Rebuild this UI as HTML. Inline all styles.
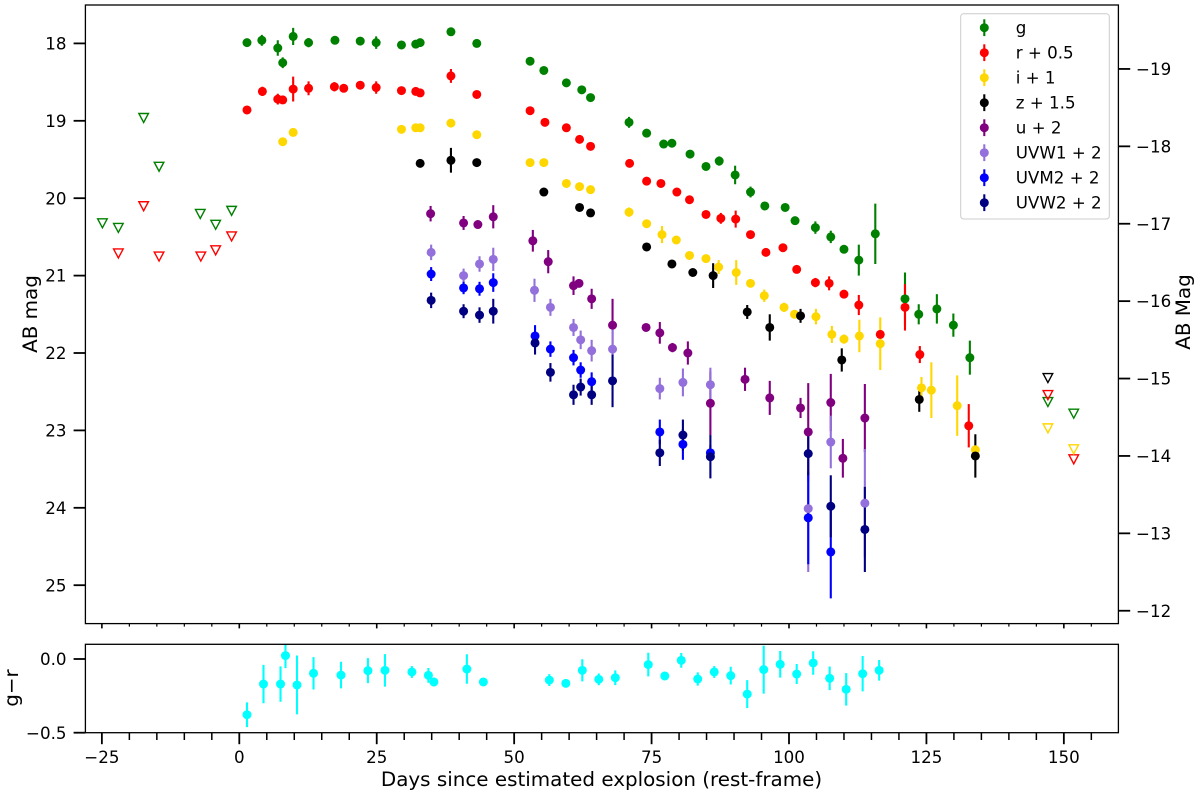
<!DOCTYPE html>
<html lang="en">
<head>
<meta charset="utf-8">
<title>Supernova light curve</title>
<style>
html,body{margin:0;padding:0;background:#fff;}
svg{display:block;}
text{font-family:"DejaVu Sans","Liberation Sans",sans-serif;fill:#000;}
</style>
</head>
<body>
<svg id="chart" xmlns="http://www.w3.org/2000/svg" width="1200" height="796" viewBox="0 0 1200 796">
  <defs>
    <clipPath id="clip-main"><rect x="85.4" y="5" width="1033" height="618.6"></rect></clipPath>
    <clipPath id="clip-color"><rect x="85.4" y="644.3" width="1033" height="88.4"></rect></clipPath>
  </defs>
  <g id="ticks"></g>
  <g id="main-bars" clip-path="url(#clip-main)"></g>
  <g id="main-marks" clip-path="url(#clip-main)"></g>
  <g id="color-bars" clip-path="url(#clip-color)"></g>
  <g id="color-marks" clip-path="url(#clip-color)"></g>
  <rect x="85.4" y="5" width="1033" height="618.6" fill="none" stroke="#000" stroke-width="1.3"></rect>
  <rect x="85.4" y="644.3" width="1033" height="88.4" fill="none" stroke="#000" stroke-width="1.3"></rect>
  <text transform="translate(37,314) rotate(-90)" text-anchor="middle" font-size="19.9">AB mag</text>
  <text transform="translate(1190,312) rotate(-90)" text-anchor="middle" font-size="19.9">AB Mag</text>
  <text transform="translate(18,688) rotate(-90)" text-anchor="middle" font-size="19.9">g−r</text>
  <text x="601.5" y="786" text-anchor="middle" font-size="19.9">Days since estimated explosion (rest-frame)</text>
  <g id="legend">
    <rect x="960.7" y="13.7" width="148.6" height="205.3" rx="3" fill="#fff" fill-opacity="0.8" stroke="#ccc" stroke-width="1"></rect>
  </g>
</svg>
<script>
// Days since explosion, magnitudes and errors per band
const gDays = [1.4,4.1,7.0,7.9,9.8,12.6,17.4,22.0,24.9,29.5,32.1,32.9,38.5,43.2,52.9,55.4,59.5,62.3,63.9,70.9,74.1,77.2,78.7,82.0,84.9,87.3,90.2,93.0,95.6,99.3,101.1,104.8,107.6,110.0,112.7,115.7,121.1,123.6,126.9,129.9,132.9];
const gMags = [17.99,17.96,18.06,18.25,17.91,17.99,17.96,17.97,17.99,18.02,18.01,17.99,17.85,18.0,18.23,18.35,18.51,18.60,18.70,19.02,19.16,19.30,19.29,19.43,19.59,19.52,19.70,19.92,20.10,20.12,20.29,20.38,20.50,20.66,20.80,20.46,21.30,21.50,21.43,21.64,22.06];
const gErrs = [.03,.07,.10,.07,.11,.06,.03,.03,.08,.03,.03,.03,.03,.03,.03,.03,.03,.03,.03,.07,.03,.03,.03,.03,.03,.06,.12,.07,.03,.03,.03,.08,.08,.03,.20,.39,.34,.13,.19,.15,.22];

const rDays = [1.4,4.2,7.0,7.9,9.8,12.6,17.3,19.0,22.0,24.9,29.5,32.1,32.9,38.5,43.2,52.9,55.6,59.5,61.9,63.9,71.0,74.1,76.7,79.6,81.9,84.9,87.6,90.3,93.0,95.8,98.9,101.4,104.8,107.3,110.0,112.7,116.6,121.1,123.8,132.7];
const rMags = [18.86,18.62,18.72,18.73,18.59,18.58,18.56,18.58,18.54,18.57,18.61,18.62,18.64,18.42,18.66,18.87,19.02,19.09,19.24,19.33,19.55,19.78,19.81,19.92,20.02,20.21,20.26,20.27,20.47,20.70,20.64,20.92,21.09,21.10,21.24,21.38,21.76,21.41,22.02,22.94];
const rErrs = [.03,.06,.07,.03,.16,.09,.06,.03,.03,.08,.03,.03,.03,.09,.03,.03,.03,.03,.03,.03,.03,.03,.03,.03,.03,.03,.07,.11,.03,.03,.03,.03,.06,.09,.03,.13,.05,.30,.11,.28];

const iDays = [7.9,9.8,29.5,32.1,32.9,38.5,43.2,52.9,55.4,59.5,61.9,63.9,70.9,74.1,76.9,79.5,81.9,84.9,87.2,90.4,93.0,95.5,99.1,101.0,104.9,107.8,110.0,112.8,116.6,124.1,125.9,130.6,133.9];
const iMags = [19.27,19.15,19.11,19.09,19.09,19.03,19.18,19.54,19.54,19.81,19.85,19.89,20.18,20.33,20.47,20.54,20.74,20.78,20.89,20.96,21.10,21.26,21.41,21.50,21.53,21.76,21.82,21.78,21.88,22.45,22.48,22.68,23.25];
const iErrs = [.03,.03,.03,.03,.03,.03,.03,.03,.03,.03,.03,.03,.06,.03,.11,.03,.03,.03,.09,.16,.03,.08,.06,.03,.10,.11,.06,.21,.34,.14,.36,.39,.05];

const zDays = [32.9,38.5,43.2,55.4,61.9,63.9,74.1,78.7,82.5,86.2,92.4,96.5,102.1,109.6,123.7,133.9];
const zMags = [19.55,19.51,19.54,19.92,20.12,20.19,20.63,20.85,20.96,21.00,21.47,21.67,21.52,22.09,22.60,23.33];
const zErrs = [.03,.16,.03,.03,.03,.03,.03,.03,.03,.16,.09,.17,.09,.15,.16,.28];

const uDays = [34.8,40.8,43.4,46.2,53.4,56.2,60.8,61.8,64.1,67.9,74.0,76.5,78.8,81.6,85.7,92.0,96.5,102.1,103.5,107.6,109.8,113.8];
const uMags = [20.20,20.32,20.34,20.24,20.55,20.82,21.13,21.10,21.30,21.64,21.67,21.74,21.93,22.00,22.65,22.34,22.58,22.71,23.02,22.64,23.36,22.84];
const uErrs = [.10,.09,.03,.15,.14,.15,.12,.03,.13,.34,.03,.14,.06,.15,.41,.15,.22,.13,.63,.37,.25,.44];

const uvw1Days = [34.9,40.8,43.7,46.2,53.7,56.6,60.8,62.1,64.1,67.9,76.5,80.7,85.7,103.5,107.6,113.8];
const uvw1Mags = [20.70,21.00,20.85,20.79,21.19,21.41,21.67,21.83,21.97,21.95,22.46,22.38,22.41,24.01,23.15,23.94];
const uvw1Errs = [.10,.09,.10,.15,.15,.11,.11,.12,.14,.30,.14,.18,.22,.82,.34,.70];

const uvm2Days = [34.9,40.8,43.7,46.2,53.8,56.6,60.8,62.1,64.1,76.5,80.7,85.7,103.5,107.6];
const uvm2Mags = [20.98,21.16,21.17,21.09,21.78,21.95,22.06,22.22,22.37,23.02,23.18,23.29,24.13,24.57];
const uvm2Errs = [.09,.08,.09,.12,.14,.10,.10,.10,.12,.16,.20,.10,.60,.60];

const uvw2Days = [34.9,40.8,43.7,46.2,53.8,56.6,60.8,62.1,64.1,67.9,76.5,80.7,85.7,103.5,107.6,113.8];
const uvw2Mags = [21.32,21.46,21.51,21.46,21.87,22.25,22.54,22.44,22.54,22.36,23.29,23.06,23.34,23.30,23.98,24.28];
const uvw2Errs = [.10,.09,.10,.16,.15,.12,.13,.11,.13,.34,.17,.20,.28,.28,.40,.55];

// Upper limits
const gLimitDays = [-24.9,-22.0,-17.4,-14.6,-7.1,-4.3,-1.4,147.1,151.8];
const gLimitMags = [20.32,20.38,18.96,19.59,20.20,20.34,20.16,22.63,22.78];
const rLimitDays = [-22.0,-17.4,-14.6,-7.0,-4.3,-1.4,147.1,151.8];
const rLimitMags = [20.71,20.10,20.75,20.75,20.67,20.49,22.54,23.37];
const iLimitDays = [147.1,151.8];
const iLimitMags = [22.97,23.24];
const zLimitDays = [147.1];
const zLimitMags = [22.32];

// g-r colour panel
const colorDays = [1.4,4.4,7.5,8.4,10.5,13.5,18.5,23.4,26.5,31.4,34.4,35.4,41.4,44.4,56.4,59.4,62.4,65.4,68.4,74.4,77.4,80.4,83.4,86.4,89.4,92.4,95.4,98.4,101.4,104.4,107.4,110.4,113.4,116.4];
const colorVals = [-.378,-.17,-.17,.023,-.176,-.097,-.109,-.079,-.077,-.088,-.111,-.156,-.068,-.156,-.143,-.165,-.077,-.138,-.127,-.038,-.115,-.009,-.136,-.088,-.113,-.238,-.072,-.036,-.102,-.027,-.131,-.206,-.10,-.077];
const colorErrs = [.084,.13,.12,.085,.2,.11,.09,.085,.11,.04,.05,.03,.10,.02,.04,.02,.075,.04,.05,.08,.02,.05,.045,.04,.06,.095,.163,.09,.068,.08,.08,.11,.12,.07];

// Tick values and labels
const xMajorTicks = [-25,0,25,50,75,100,125,150];
const xMinorTicks = [-20,-15,-10,-5,5,10,15,20,30,35,40,45,55,60,65,70,80,85,90,95,105,110,115,120,130,135,140,145,155];
const magTicks = [18,19,20,21,22,23,24,25];
const absTicks = [-19,-18,-17,-16,-15,-14,-13,-12];
const colorTicks = [0,-0.5];
const colorTickLabels = ['0.0','−0.5'];
const distanceModulus = 37.33;

const bandNames = ['g','r + 0.5','i + 1','z + 1.5','u + 2','UVW1 + 2','UVM2 + 2','UVW2 + 2'];
const bandColors = ['#008000','#ff0000','#ffd700','#000000','#800080','#9370db','#0000ff','#000080'];
const bandDays = [gDays,rDays,iDays,zDays,uDays,uvw1Days,uvm2Days,uvw2Days];
const bandMags = [gMags,rMags,iMags,zMags,uMags,uvw1Mags,uvm2Mags,uvw2Mags];
const bandErrs = [gErrs,rErrs,iErrs,zErrs,uErrs,uvw1Errs,uvm2Errs,uvw2Errs];
const limitDays = [gLimitDays,rLimitDays,iLimitDays,zLimitDays];
const limitMags = [gLimitMags,rLimitMags,iLimitMags,zLimitMags];

// Axis functions
function xScale(d){ return 239.3 + 5.497 * d; }
function magScale(m){ return 43.4 + 77.4 * (m - 18); }
function colorScale(v){ return 659 - 147.4 * v; }

const NS = 'http://www.w3.org/2000/svg';
function make(tag, attrs, parent){
  const n = document.createElementNS(NS, tag);
  for (const k in attrs) n.setAttribute(k, attrs[k]);
  parent.appendChild(n);
  return n;
}
function fmt(v){ return String(v).replace('-', '−'); }

const ticksG = document.getElementById('ticks');
const mainBars = document.getElementById('main-bars');
const mainMarks = document.getElementById('main-marks');
const colorBarsG = document.getElementById('color-bars');
const colorMarksG = document.getElementById('color-marks');
const legendG = document.getElementById('legend');

function tick(x1, y1, x2, y2, name, w){
  const t = make('line', {x1:x1, y1:y1, x2:x2, y2:y2, stroke:'#000', 'stroke-width':w}, ticksG);
  
  
}
function tickText(x, y, str, anchor, name){
  const t = make('text', {x:x, y:y, 'text-anchor':anchor, 'font-size':16.7}, ticksG);
  t.textContent = str;
  
  
}

xMajorTicks.forEach(function(d){
  const x = xScale(d);
  tick(x, 623.6, x, 628.4, 'main-x-major-tick', 1.6);
  tick(x, 732.7, x, 744.2, 'colour-x-major-tick', 1.8);
  tickText(x, 763, fmt(d), 'middle', 'x-tick-label');
});
xMinorTicks.forEach(function(d){
  const x = xScale(d);
  tick(x, 623.6, x, 626.6, 'main-x-minor-tick', 1.2);
  tick(x, 732.7, x, 740, 'colour-x-minor-tick', 1.5);
});
magTicks.forEach(function(m){
  const y = magScale(m);
  tick(73.6, y, 85.4, y, 'mag-y-tick', 1.8);
  tickText(66.5, y + 6.1, String(m), 'end', 'mag-y-tick-label');
});
absTicks.forEach(function(a){
  const y = magScale(a + distanceModulus);
  tick(1118.4, y, 1130.2, y, 'abs-mag-y-tick', 1.8);
  tickText(1136, y + 6.1, fmt(a), 'start', 'abs-mag-y-tick-label');
});
colorTicks.forEach(function(v, i){
  const y = colorScale(v);
  tick(73.6, y, 85.4, y, 'colour-y-tick', 1.8);
  tickText(66.5, y + 6.1, colorTickLabels[i], 'end', 'colour-y-tick-label');
});

// All error bars lie below all markers, series by series
bandNames.forEach(function(name, b){
  const slug = name.split(' ')[0].toLowerCase();
  bandDays[b].forEach(function(d, i){
    const x = xScale(d);
    const bar = make('line', {x1:x, x2:x, y1:magScale(bandMags[b][i] - bandErrs[b][i]), y2:magScale(bandMags[b][i] + bandErrs[b][i]), stroke:bandColors[b], 'stroke-width':2.1}, mainBars);
    
    
  });
});
limitDays.forEach(function(days, b){
  const slug = bandNames[b].split(' ')[0].toLowerCase();
  days.forEach(function(d, i){
    const x = xScale(d), y = magScale(limitMags[b][i]);
    const tri = make('path', {d:'M' + (x - 4.8) + ' ' + (y - 4.2) + 'L' + (x + 4.8) + ' ' + (y - 4.2) + 'L' + x + ' ' + (y + 4.8) + 'Z', fill:'none', stroke:bandColors[b], 'stroke-width':1.4}, mainMarks);
    
    
  });
});
bandNames.forEach(function(name, b){
  const slug = name.split(' ')[0].toLowerCase();
  bandDays[b].forEach(function(d, i){
    const dot = make('circle', {cx:xScale(d), cy:magScale(bandMags[b][i]), r:4.5, fill:bandColors[b]}, mainMarks);
    
    
  });
});

colorDays.forEach(function(d, i){
  const x = xScale(d);
  const bar = make('line', {x1:x, x2:x, y1:colorScale(colorVals[i] + colorErrs[i]), y2:colorScale(colorVals[i] - colorErrs[i]), stroke:'#00ffff', 'stroke-width':2.1}, colorBarsG);
  
  
  const dot = make('circle', {cx:x, cy:colorScale(colorVals[i]), r:4.5, fill:'#00ffff'}, colorMarksG);
  
  
});

// Legend
bandNames.forEach(function(name, b){
  const y = 27.7 + 25 * b;
  const g = make('g', {}, legendG);
  
  
  const bar = make('line', {x1:984.3, x2:984.3, y1:y - 8.4, y2:y + 8.4, stroke:bandColors[b], 'stroke-width':2.1}, g);
  
  
  const dot = make('circle', {cx:984.3, cy:y, r:4.5, fill:bandColors[b]}, g);
  
  
  const label = make('text', {x:1015.7, y:y + 6, 'font-size':16.7}, g);
  label.textContent = name;
  
  
});
</script>
</body>
</html>
